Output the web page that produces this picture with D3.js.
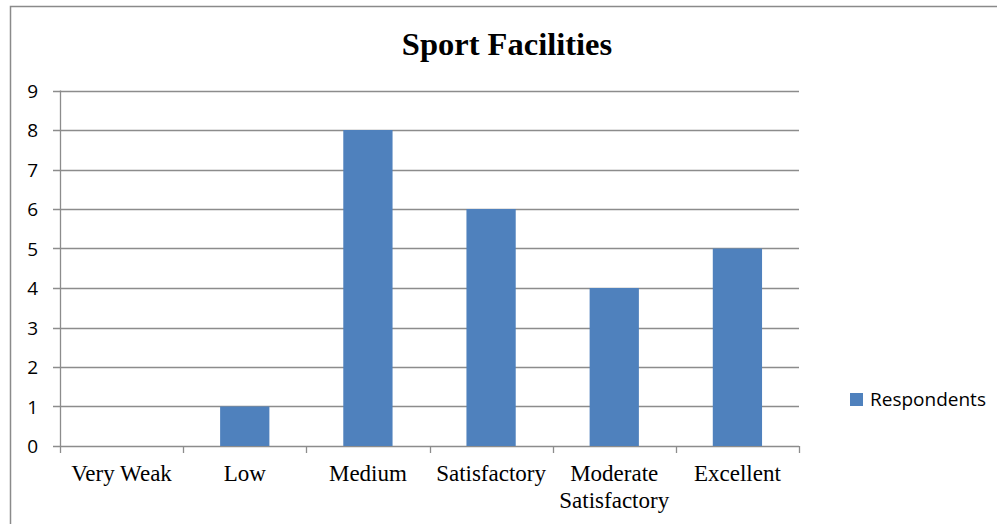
<!DOCTYPE html>
<html>
<head>
<meta charset="utf-8">
<script src="https://cdn.jsdelivr.net/npm/d3@7"></script>
<style>
	body { margin: 0; background: #fff; }
	svg { display: block; }
</style>
</head>
<body>
<script>
var categories = ['Very Weak', 'Low', 'Medium', 'Satisfactory', 'Moderate Satisfactory', 'Excellent'];
var respondents = [0, 1, 8, 6, 4, 5];
var yTicks = [0, 1, 2, 3, 4, 5, 6, 7, 8, 9];
var seriesName = 'Respondents';
var chartTitle = 'Sport Facilities';

var width = 997, height = 524;
var plot = { left: 60, right: 799, top: 90.5, bottom: 446 };
var barColor = '#4f81bd';
var gridColor = '#8c8c8c';

var svg = d3.select('body').append('svg')
	.attr('width', width)
	.attr('height', height);

// outer frame, only top and left edges fall inside the picture
svg.append('rect')
	.attr('x', 10.5).attr('y', 6.5)
	.attr('width', 1000).attr('height', 600)
	.attr('fill', 'none')
	.attr('stroke', '#8a8a8a')
	.attr('stroke-width', 1.5);

var x = d3.scaleBand()
	.domain(categories)
	.range([plot.left, plot.right])
	.paddingInner(0.6)
	.paddingOuter(0.3);

var xEdges = d3.scaleLinear()
	.domain([0, categories.length])
	.range([plot.left, plot.right]);

var y = d3.scaleLinear()
	.domain([0, 9])
	.range([plot.bottom, plot.top]);

// gridlines with the small left tick
svg.append('g')
	.selectAll('line')
	.data(yTicks)
	.join('line')
	.attr('x1', plot.left - 7)
	.attr('x2', plot.right)
	.attr('y1', d => Math.round(y(d)) + 0.5)
	.attr('y2', d => Math.round(y(d)) + 0.5)
	.attr('stroke', gridColor)
	.attr('stroke-width', 1.3);

// y axis labels
svg.append('g')
	.selectAll('text')
	.data(yTicks)
	.join('text')
	.attr('x', 38)
	.attr('y', d => y(d) + 7)
	.attr('text-anchor', 'end')
	.attr('font-family', '"Open Sans", sans-serif')
	.attr('font-size', 19)
	.attr('fill', '#000')
	.text(d => d);

// bars
svg.append('g')
	.selectAll('rect')
	.data(respondents)
	.join('rect')
	.attr('x', (d, i) => x(categories[i]))
	.attr('width', x.bandwidth())
	.attr('y', d => y(d))
	.attr('height', d => y(0) - y(d))
	.attr('fill', barColor);

// y axis line
svg.append('line')
	.attr('x1', plot.left + 0.5).attr('x2', plot.left + 0.5)
	.attr('y1', plot.top).attr('y2', plot.bottom)
	.attr('stroke', gridColor)
	.attr('stroke-width', 1.3);

// x tick marks at category edges
svg.append('g')
	.selectAll('line')
	.data(d3.range(categories.length + 1))
	.join('line')
	.attr('x1', d => Math.round(xEdges(d)) + 0.5)
	.attr('x2', d => Math.round(xEdges(d)) + 0.5)
	.attr('y1', plot.bottom)
	.attr('y2', plot.bottom + 7)
	.attr('stroke', gridColor)
	.attr('stroke-width', 1.3);

// category labels, wrapped like the original
var catLines = {
	'Moderate Satisfactory': ['Moderate', 'Satisfactory']
};
var labels = svg.append('g')
	.selectAll('text')
	.data(categories)
	.join('text')
	.attr('text-anchor', 'middle')
	.attr('font-family', '"Liberation Serif", "Times New Roman", serif')
	.attr('font-size', 23)
	.attr('fill', '#000');
labels.each(function(d) {
	var lines = catLines[d] || [d];
	var cx = x(d) + x.bandwidth() / 2;
	d3.select(this).selectAll('tspan')
		.data(lines)
		.join('tspan')
		.attr('x', cx)
		.attr('y', (l, i) => 481 + i * 27)
		.text(l => l);
});

// title
svg.append('text')
	.attr('x', 507)
	.attr('y', 55)
	.attr('text-anchor', 'middle')
	.attr('font-family', '"Liberation Serif", "Times New Roman", serif')
	.attr('font-weight', 'bold')
	.attr('font-size', 32.5)
	.attr('fill', '#000')
	.text(chartTitle);

// legend
var legend = svg.append('g').attr('transform', 'translate(850,393)');
legend.append('rect')
	.attr('width', 13).attr('height', 13)
	.attr('fill', barColor);
legend.append('text')
	.attr('x', 20)
	.attr('y', 12.5)
	.attr('font-family', '"Open Sans", sans-serif')
	.attr('font-size', 19)
	.attr('fill', '#000')
	.text(seriesName);
</script>
</body>
</html>
